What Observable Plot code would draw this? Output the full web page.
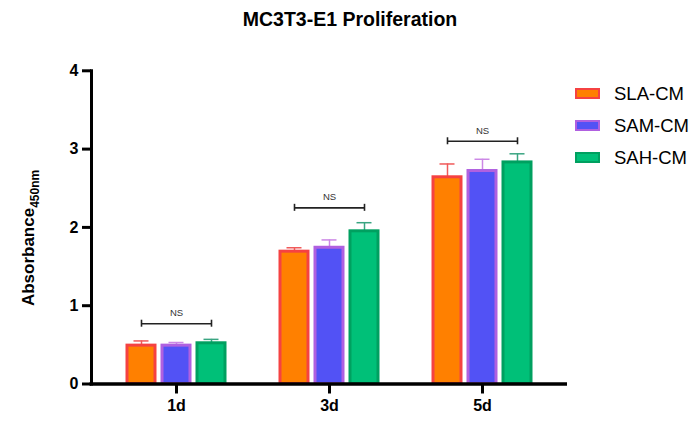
<!DOCTYPE html>
<html>
<head>
<meta charset="utf-8">
<script src="https://cdn.jsdelivr.net/npm/d3@7"></script>
<script src="https://cdn.jsdelivr.net/npm/@observablehq/plot@0.6"></script>
<style>
  html, body { margin: 0; padding: 0; background: #fff; }
  #wrap { position: relative; width: 700px; height: 423px; font-family: "Liberation Sans", Arial, sans-serif; overflow: hidden; }
  #title { position: absolute; left: 0; top: 10px; width: 700px; text-align: center; font-size: 19.5px; line-height: 19px; font-weight: bold; color: #000; }
  #chart { position: absolute; left: 0; top: 40px; }
  #legend { position: absolute; left: 575px; top: 88px; }
  .row { position: relative; height: 32px; }
  .sw { position: absolute; left: 0; top: 0; width: 21px; height: 7px; border-style: solid; border-width: 2.5px; }
  .lab { position: absolute; left: 39px; top: -4px; font-size: 18.5px; line-height: 20px; color: #000; white-space: nowrap; }
</style>
</head>
<body>
<div id="wrap">
  <div id="title"></div>
  <div id="chart"></div>
  <div id="legend"></div>
</div>
<script>
const title = "MC3T3-E1 Proliferation";
const days = ["1d", "3d", "5d"];
const series = ["SLA-CM", "SAM-CM", "SAH-CM"];
const slaMean = [0.49, 1.69, 2.64];
const slaErr = [0.06, 0.05, 0.17];
const samMean = [0.49, 1.74, 2.72];
const samErr = [0.04, 0.10, 0.15];
const sahMean = [0.52, 1.95, 2.83];
const sahErr = [0.05, 0.11, 0.11];
const nsLevel = [0.77, 2.25, 3.10];
const nsLabel = ["NS", "NS", "NS"];
const yTicks = [0, 1, 2, 3, 4];
const yLabel = "Absorbance";
const ySub = "450nm";

const fills = ["#ff8000", "#5252f5", "#00c078"];
const strokes = ["#f54242", "#b060e0", "#00a060"];
const errColors = ["#f05a5a", "#cc88e6", "#3aa582"];
const offsets = [-35, 0, 35];

const means = [slaMean, samMean, sahMean];
const errs = [slaErr, samErr, sahErr];

const rows = [];
series.forEach((s, si) => days.forEach((d, di) => rows.push({series: s, si, day: d, mean: means[si][di], err: errs[si][di]})));
const brackets = days.map((d, i) => ({day: d, level: nsLevel[i], label: nsLabel[i]}));

const marks = [];
series.forEach((s, si) => {
  const data = rows.filter(r => r.si === si);
  marks.push(Plot.ruleX(data, {x: "day", y1: "mean", y2: d => d.mean + d.err, dx: offsets[si], stroke: errColors[si], strokeWidth: 1.5}));
  marks.push(Plot.tickY(data, {x: "day", y: d => d.mean + d.err, dx: offsets[si], stroke: errColors[si], strokeWidth: 1.5, insetLeft: 6.5, insetRight: 6.5}));
  marks.push(Plot.barY(data, {x: "day", y: "mean", dx: offsets[si], fill: fills[si], stroke: strokes[si], strokeWidth: 3}));
});
marks.push(Plot.ruleY(brackets, {x1: "day", x2: "day", y: "level", insetLeft: -21, insetRight: -21, stroke: "#222", strokeWidth: 1.6}));
[-35, 35].forEach(o => marks.push(Plot.ruleX(brackets, {x: "day", y1: "level", y2: "level", dx: o, insetTop: -3.5, insetBottom: -3.5, stroke: "#222", strokeWidth: 1.6})));
marks.push(Plot.text(brackets, {x: "day", y: "level", text: "label", dy: -10.5, fontSize: 9.5, fill: "#333"}));
marks.push(Plot.ruleY([0], {stroke: "#000", strokeWidth: 3.5, insetLeft: -1.5}));
marks.push(Plot.frame({anchor: "left", stroke: "#000", strokeWidth: 3}));
marks.push(Plot.axisY({ticks: yTicks, tickSize: 9, tickPadding: 4, strokeWidth: 3, fontSize: 16, fontWeight: "bold", label: null, tickFormat: d3.format("d")}));
marks.push(Plot.axisX({tickSize: 10, tickPadding: 6, strokeWidth: 3, fontSize: 16, fontWeight: "bold", label: null}));
marks.push(Plot.text([yLabel], {frameAnchor: "left", rotate: -90, textAnchor: "start", lineAnchor: "bottom", dx: -58, dy: 78.7, fontSize: 17, fontWeight: "bold", fill: "#000"}));

const chart = Plot.plot({
  width: 700,
  height: 383,
  marginLeft: 91,
  marginRight: 133,
  marginTop: 30.3,
  marginBottom: 39.5,
  style: {fontFamily: "'Liberation Sans', Arial, sans-serif", color: "#000", background: "#fff", overflow: "visible"},
  x: {domain: days, paddingInner: 0.817, paddingOuter: 0.464},
  y: {domain: [0, 4]},
  marks
});

// subscript on the y label
d3.select(chart).selectAll("text").each(function() {
  const t = d3.select(this);
  if (t.text() === yLabel) {
    t.append("tspan").attr("dy", 5).attr("font-size", 12).text(ySub);
  }
});

document.getElementById("chart").appendChild(chart);
document.getElementById("title").textContent = title;

const legend = d3.select("#legend");
series.forEach((s, i) => {
  const row = legend.append("div").attr("class", "row");
  row.append("div").attr("class", "sw").style("background", fills[i]).style("border-color", strokes[i]);
  row.append("div").attr("class", "lab").text(s);
});
</script>
</body>
</html>
